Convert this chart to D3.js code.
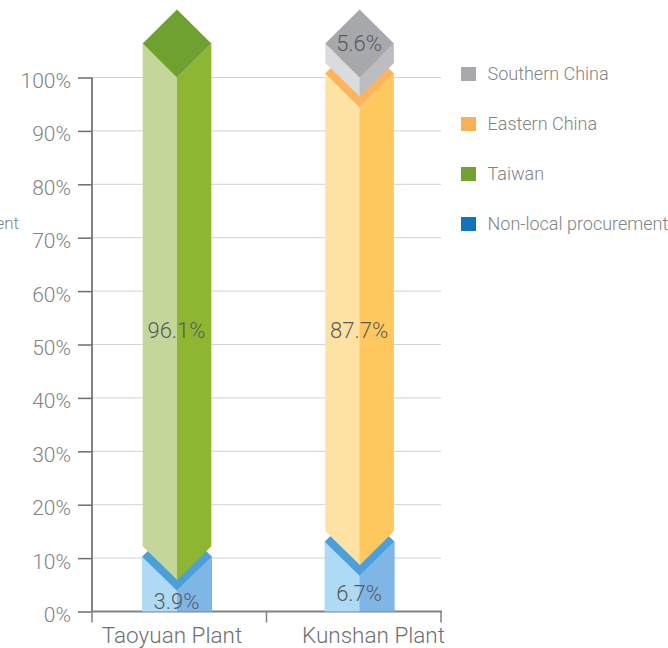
<!DOCTYPE html>
<html>
<head>
<meta charset="utf-8">
<script src="https://cdn.jsdelivr.net/npm/d3@7/dist/d3.min.js"></script>
<style>
html,body{margin:0;padding:0;background:#fff;overflow:hidden}
svg{display:block}
text{font-family:Roboto,"Liberation Sans",sans-serif;font-weight:300;opacity:.99}
</style>
</head>
<body>
<script>
const plants = ["Taoyuan Plant", "Kunshan Plant"];
const regions = ["Non-local procurement", "Taiwan", "Eastern China", "Southern China"];
const taoyuanValues = [3.9, 96.1, 0, 0];
const kunshanValues = [6.7, 0, 87.7, 5.6];
const yTicks = [0, 10, 20, 30, 40, 50, 60, 70, 80, 90, 100];
const legendOrder = ["Southern China", "Eastern China", "Taiwan", "Non-local procurement"];
const legendColors = ["#a7a9ac", "#fbb058", "#71a232", "#1273bd"];
const axisTitle = "procurement";
const faceColors = [
  {left:"#aedaf5", right:"#7fb6e6", top:"#4c9fd8"},
  {left:"#c5d69a", right:"#8fb633", top:"#6fa130"},
  {left:"#fee2a4", right:"#fec85f", top:"#fdb45a"},
  {left:"#dadbdd", right:"#bcbdc0", top:"#a7a8ab"}
];

const W = 668, H = 648;
const svg = d3.select("body").append("svg").attr("width", W).attr("height", H);

const y = d3.scaleLinear().domain([0, 100]).range([611.5, 77.5]);
const axisX = d3.scalePoint().domain(["a","b","c"]).range([92, 441]);
const barX = d3.scalePoint().domain(plants).range([177, 359.6]);
const labelX = d3.scalePoint().domain(plants).range([172, 373.5]);
const halfW = 34.3, depth = 34, gap = 10.5;
const grey = "#808285";

// gridlines
svg.append("g").selectAll("line").data(yTicks.slice(1)).join("line")
  .attr("x1", 92).attr("x2", 441).attr("y1", d => y(d)).attr("y2", d => y(d))
  .attr("stroke", "#d1d3d4").attr("stroke-width", 1);

// axes
const yAxis = d3.axisLeft(y).tickValues(yTicks).tickFormat(d => d + "%").tickSize(14).tickPadding(7);
const gy = svg.append("g").attr("transform", "translate(92,0)").call(yAxis);
gy.select(".domain").attr("stroke", grey).attr("stroke-width", 2).attr("d", `M0,${y(100)}V${y(0)}`);
gy.selectAll(".tick line").attr("stroke", "#6d6e71").attr("stroke-width", 1.5);
gy.selectAll(".tick text").attr("fill", grey).attr("font-size", 21).attr("dy", "0.48em")
  .attr("y", 0).attr("font-family", "Roboto").attr("font-weight", 300);

const xg = svg.append("g").attr("transform", `translate(0,${y(0)})`);
xg.append("line").attr("x1", 91).attr("x2", 442).attr("stroke", grey).attr("stroke-width", 2);
xg.selectAll(".t").data(axisX.domain()).join("line").attr("class", "t")
  .attr("x1", d => axisX(d)).attr("x2", d => axisX(d)).attr("y1", 0).attr("y2", 11)
  .attr("stroke", grey).attr("stroke-width", 1.5);
xg.selectAll("text").data(plants).join("text")
  .attr("x", d => labelX(d)).attr("y", 31.5).attr("text-anchor", "middle")
  .attr("fill", "#6d6e71").attr("font-size", 22.5).text(d => d);

// stacked isometric bars
function poly(g, pts, fill) {
  g.append("polygon").attr("points", pts.map(p => p.join(",")).join(" ")).attr("fill", fill);
}
[taoyuanValues, kunshanValues].forEach((vals, pi) => {
  const cx = barX(plants[pi]);
  const g = svg.append("g");
  let base = 0, first = true;
  const shown = [];
  vals.forEach((v, i) => {
    if (!v) return;
    const topY = y(base + v);
    const botY = first ? y(0) : y(base) - gap;
    const lowCorner = first ? y(0) : botY - depth;
    const c = faceColors[i];
    const hw = first ? halfW + 0.7 : halfW;
    const lx = cx - hw, rx = cx + hw, ov = cx + 0.6;
    // left face runs slightly under the right one so no seam shows
    poly(g, [[lx, lowCorner], [ov, botY], [ov, topY], [lx, topY - depth]], c.left);
    poly(g, [[rx, lowCorner], [cx, botY], [cx, topY], [rx, topY - depth]], c.right);
    poly(g, [[cx, topY], [lx, topY - depth], [cx, topY - 2 * depth], [rx, topY - depth]], c.top);
    shown.push({v, base, i});
    base += v;
    first = false;
  });
  // value labels
  shown.forEach((s, k) => {
    const isTop = k === shown.length - 1;
    let ly;
    if (s.v < 10 && isTop) ly = y(s.base + s.v) - depth;
    else if (s.v < 10) ly = y(s.base + s.v / 2);
    else ly = y(52.7);
    g.append("text").attr("x", cx - 0.5).attr("y", ly + 7.5).attr("text-anchor", "middle")
      .attr("fill", "#58595b").attr("font-size", 22).text(s.v.toFixed(1) + "%");
  });
});

// clipped axis title
svg.append("text").attr("x", 19).attr("y", 229).attr("text-anchor", "end")
  .attr("fill", "#808285").attr("font-size", 17).text(axisTitle);

// legend
const lg = svg.append("g").selectAll("g").data(legendOrder).join("g")
  .attr("transform", (d, i) => `translate(461,${67 + i * 50})`);
lg.append("rect").attr("width", 15).attr("height", 14).attr("fill", (d, i) => legendColors[i]);
lg.append("text").attr("x", 26.5).attr("y", 13).attr("fill", grey).attr("font-size", 18).text(d => d);
</script>
</body>
</html>
